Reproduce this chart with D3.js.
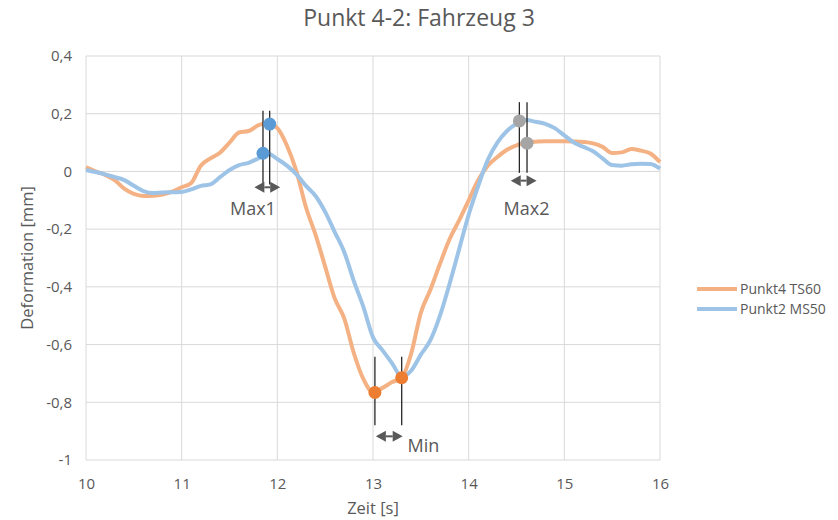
<!DOCTYPE html>
<html>
<head>
<meta charset="utf-8">
<script src="https://cdn.jsdelivr.net/npm/d3@7"></script>
<style>
  body { margin: 0; background: #fff; }
  text { font-family: "Open Sans", sans-serif; fill: #595959; }
</style>
</head>
<body>
<div id="container"></div>
<script>
const times = [10.0, 10.1, 10.2, 10.3, 10.4, 10.5, 10.6, 10.7, 10.8, 10.9,
  11.0, 11.1, 11.2, 11.3, 11.4, 11.5, 11.6, 11.7, 11.8, 11.9,
  12.0, 12.1, 12.2, 12.3, 12.4, 12.5, 12.6, 12.7, 12.8, 12.9,
  13.0, 13.1, 13.2, 13.3, 13.4, 13.5, 13.6, 13.7, 13.8, 13.9,
  14.0, 14.1, 14.2, 14.3, 14.4, 14.5, 14.6, 14.7, 14.8, 14.9,
  15.0, 15.1, 15.2, 15.3, 15.4, 15.5, 15.6, 15.7, 15.8, 15.9, 16.0];

const punkt4 = [0.015, 0.0, -0.012, -0.03, -0.06, -0.078, -0.085, -0.084, -0.08, -0.07,
  -0.055, -0.04, 0.02, 0.045, 0.065, 0.1, 0.135, 0.14, 0.16, 0.167,
  0.15, 0.09, 0.0, -0.125, -0.22, -0.33, -0.44, -0.51, -0.63, -0.72,
  -0.765, -0.75, -0.73, -0.715, -0.63, -0.49, -0.41, -0.32, -0.235, -0.17,
  -0.1, -0.03, 0.02, 0.05, 0.075, 0.09, 0.1, 0.103, 0.105, 0.105,
  0.105, 0.104, 0.102, 0.097, 0.085, 0.064, 0.066, 0.078, 0.072, 0.062, 0.032];

const punkt2 = [0.005, -0.002, -0.01, -0.02, -0.03, -0.05, -0.068, -0.075, -0.073, -0.072,
  -0.071, -0.062, -0.05, -0.045, -0.02, 0.005, 0.022, 0.03, 0.045, 0.062,
  0.043, 0.02, -0.01, -0.05, -0.085, -0.14, -0.21, -0.28, -0.38, -0.47,
  -0.575, -0.62, -0.665, -0.712, -0.69, -0.635, -0.585, -0.5, -0.39, -0.27,
  -0.15, -0.05, 0.04, 0.1, 0.14, 0.165, 0.178, 0.172, 0.165, 0.15,
  0.125, 0.1, 0.085, 0.07, 0.045, 0.022, 0.02, 0.025, 0.027, 0.026, 0.01];

const seriesNames = ["Punkt4 TS60", "Punkt2 MS50"];
const seriesColors = ["#F4B183", "#9DC3E6"];

const xTicks = [10, 11, 12, 13, 14, 15, 16];
const yTicks = [0.4, 0.2, 0, -0.2, -0.4, -0.6, -0.8, -1];

// marked extreme points: [time, value]
const max1Points = [[11.92, 0.164], [11.85, 0.063]];
const minPoints = [[13.02, -0.766], [13.3, -0.715]];
const max2Points = [[14.53, 0.175], [14.61, 0.098]];
const markerColors = ["#5B9BD5", "#ED7D31", "#A5A5A5"];

// annotations: bracket lines (times), line top/bottom, arrow span and label
const annotLabels = ["Max1", "Min", "Max2"];
const annotLineTimes = [[11.85, 11.92], [13.02, 13.3], [14.53, 14.61]];
const annotLineRange = [[0.21, -0.045], [-0.642, -0.88], [0.24, -0.005]];
const annotArrow = [[11.76, 12.03, -0.055], [13.03, 13.31, -0.918], [14.44, 14.71, -0.032]];
const annotLabelPos = [[11.745, -0.15, "middle"], [13.36, -0.972, "start"], [14.605, -0.15, "middle"]];

const w = 838;
const h = 520;
const plotLeft = 86;
const plotRight = 660;
const plotTop = 56;
const plotBottom = 460;

const xScale = d3.scaleLinear().domain([10, 16]).range([plotLeft, plotRight]);
const yScale = d3.scaleLinear().domain([-1, 0.4]).range([plotBottom, plotTop]);

const svg = d3.select("#container")
  .append("svg")
  .attr("width", w)
  .attr("height", h);

// grid
svg.append("g")
  .selectAll("line")
  .data(yTicks)
  .enter()
  .append("line")
  .attr("x1", plotLeft)
  .attr("x2", plotRight)
  .attr("y1", d => yScale(d))
  .attr("y2", d => yScale(d))
  .attr("stroke", "#d9d9d9")
  .attr("stroke-width", 1);

svg.append("g")
  .selectAll("line")
  .data(xTicks)
  .enter()
  .append("line")
  .attr("x1", d => xScale(d))
  .attr("x2", d => xScale(d))
  .attr("y1", plotTop)
  .attr("y2", plotBottom)
  .attr("stroke", "#d9d9d9")
  .attr("stroke-width", 1);

// axes (labels only)
const xAxis = d3.axisBottom(xScale).tickValues(xTicks).tickSize(0).tickPadding(18).tickFormat(d => String(d));
const yAxis = d3.axisLeft(yScale).tickValues(yTicks).tickSize(0).tickPadding(14)
  .tickFormat(d => String(d).replace(".", ","));

svg.append("g")
  .attr("transform", `translate(0, ${plotBottom})`)
  .call(xAxis)
  .call(g => g.select(".domain").remove())
  .selectAll("text")
  .style("font-size", "15px")
  .style("font-family", "'Open Sans', sans-serif")
  .attr("fill", "#595959");

svg.append("g")
  .attr("transform", `translate(${plotLeft}, 0)`)
  .call(yAxis)
  .call(g => g.select(".domain").remove())
  .selectAll("text")
  .style("font-size", "15px")
  .style("font-family", "'Open Sans', sans-serif")
  .attr("fill", "#595959");

// titles
svg.append("text")
  .text("Punkt 4-2: Fahrzeug 3")
  .attr("x", w / 2)
  .attr("y", 26)
  .style("text-anchor", "middle")
  .style("font-size", "23px");

svg.append("text")
  .text("Zeit [s]")
  .attr("x", (plotLeft + plotRight) / 2)
  .attr("y", 514)
  .style("text-anchor", "middle")
  .style("font-size", "16.5px");

svg.append("text")
  .text("Deformation [mm]")
  .attr("transform", `translate(33, ${(plotTop + plotBottom) / 2}) rotate(-90)`)
  .style("text-anchor", "middle")
  .style("font-size", "16.5px");

// lines
const line = d3.line()
  .x((d, i) => xScale(times[i]))
  .y(d => yScale(d))
  .curve(d3.curveMonotoneX);

[punkt4, punkt2].forEach((s, k) => {
  svg.append("path")
    .datum(s)
    .attr("d", line)
    .attr("fill", "none")
    .attr("stroke", seriesColors[k])
    .attr("stroke-width", 4)
    .attr("stroke-linejoin", "round");
});

// bracket lines
annotLineTimes.forEach((ts, k) => {
  svg.append("g")
    .selectAll("line")
    .data(ts)
    .enter()
    .append("line")
    .attr("x1", d => xScale(d))
    .attr("x2", d => xScale(d))
    .attr("y1", yScale(annotLineRange[k][0]))
    .attr("y2", yScale(annotLineRange[k][1]))
    .attr("stroke", "#262626")
    .attr("stroke-width", 1.3);
});

// markers
[max1Points, minPoints, max2Points].forEach((pts, k) => {
  svg.append("g")
    .selectAll("circle")
    .data(pts)
    .enter()
    .append("circle")
    .attr("cx", d => xScale(d[0]))
    .attr("cy", d => yScale(d[1]))
    .attr("r", 6.5)
    .attr("fill", markerColors[k]);
});

// double arrows
annotArrow.forEach(a => {
  const x1 = xScale(a[0]);
  const x2 = xScale(a[1]);
  const y = yScale(a[2]);
  const head = 10;
  svg.append("line")
    .attr("x1", x1 + head)
    .attr("x2", x2 - head)
    .attr("y1", y)
    .attr("y2", y)
    .attr("stroke", "#595959")
    .attr("stroke-width", 2);
  svg.append("path")
    .attr("d", `M${x1},${y}L${x1 + head},${y - 5.5}L${x1 + head},${y + 5.5}Z`)
    .attr("fill", "#595959");
  svg.append("path")
    .attr("d", `M${x2},${y}L${x2 - head},${y - 5.5}L${x2 - head},${y + 5.5}Z`)
    .attr("fill", "#595959");
});

svg.append("g")
  .selectAll("text")
  .data(annotLabels)
  .enter()
  .append("text")
  .text(d => d)
  .attr("x", (d, i) => xScale(annotLabelPos[i][0]))
  .attr("y", (d, i) => yScale(annotLabelPos[i][1]))
  .style("text-anchor", (d, i) => annotLabelPos[i][2])
  .style("font-size", "18px");

// legend
const legend = svg.append("g")
  .attr("transform", "translate(697, 289)");

legend.selectAll("line")
  .data(seriesNames)
  .enter()
  .append("line")
  .attr("x1", 0)
  .attr("x2", 40)
  .attr("y1", (d, i) => i * 20)
  .attr("y2", (d, i) => i * 20)
  .attr("stroke", (d, i) => seriesColors[i])
  .attr("stroke-width", 4);

legend.selectAll("text")
  .data(seriesNames)
  .enter()
  .append("text")
  .text(d => d)
  .attr("x", 43)
  .attr("y", (d, i) => i * 20 + 5)
  .style("font-size", "14px");
</script>
</body>
</html>
